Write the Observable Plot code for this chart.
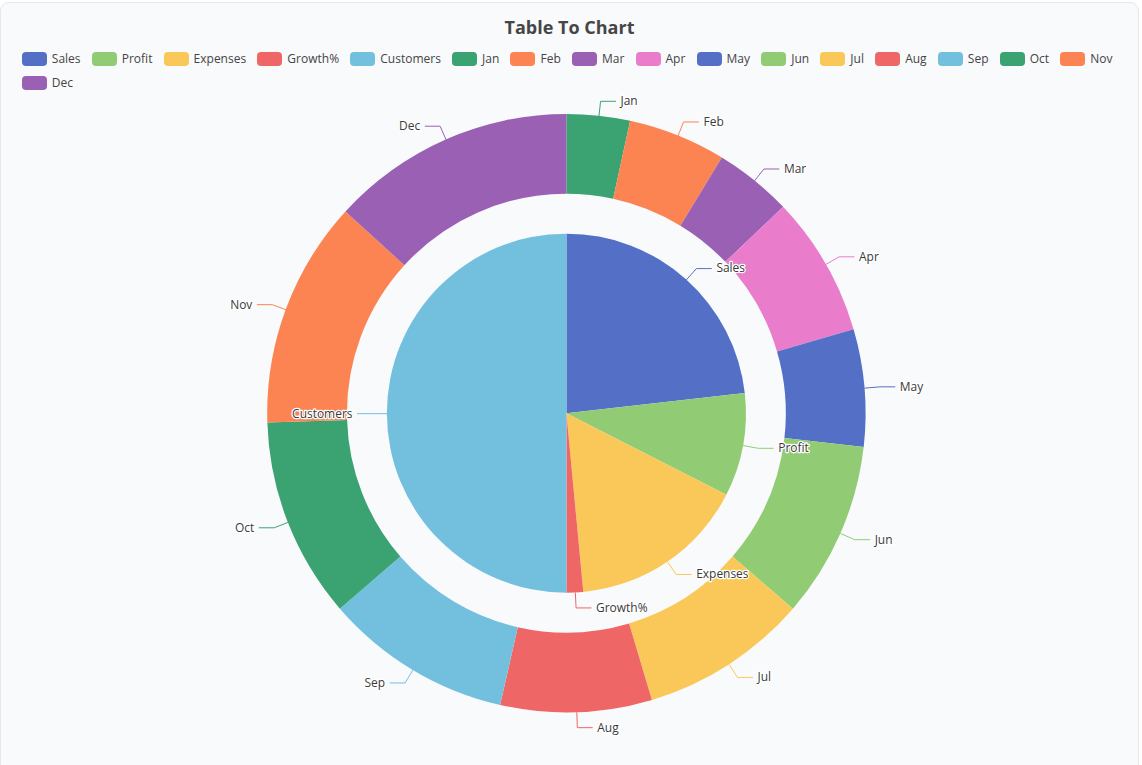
<!DOCTYPE html>
<html>
<head>
<meta charset="utf-8">
<script src="https://cdn.jsdelivr.net/npm/d3@7"></script>
<script src="https://cdn.jsdelivr.net/npm/@observablehq/plot@0.6"></script>
<style>
  html, body { margin: 0; padding: 0; background: #ffffff; overflow: hidden; }
  body { font-family: "Open Sans", "Noto Sans", sans-serif; }
  #card { position: absolute; left: 0; top: 2px; width: 1137px; height: 800px;
          border: 1px solid #e4e7ec; border-radius: 9px; background: #f9fafc; }
  #title { position: absolute; left: 0; width: 100%; top: 14px; text-align: center;
           font-size: 18px; line-height: 20px; font-weight: bold; color: #464646; }
  #legend { position: absolute; left: 20.8px; top: 48.5px; width: 1100px;
            display: flex; flex-wrap: wrap; row-gap: 10px; column-gap: 11.2px; }
  .item { display: flex; align-items: center; height: 14px; font-size: 12px; color: #444; }
  .sw { width: 25px; height: 14px; border-radius: 4px; margin-right: 5px; }
  #chart { position: absolute; left: 0; top: 97px; }
</style>
</head>
<body>
<div id="card">
  <div id="title">Table To Chart</div>
  <div id="legend"></div>
  <div id="chart"></div>
</div>
<script>
// ---- data ----
const innerLabels = ["Sales", "Profit", "Expenses", "Growth%", "Customers"];
const innerValues = [232, 93, 160, 15, 500];
const monthLabels = ["Jan", "Feb", "Mar", "Apr", "May", "Jun", "Jul", "Aug", "Sep", "Oct", "Nov", "Dec"];
const monthValues = [123, 190, 151, 273, 228, 343, 326, 294, 364, 390, 442, 476];
const palette = ["#5470c6", "#91cc75", "#fac858", "#ee6666", "#73c0de", "#3ba272", "#fc8452", "#9a60b4", "#ea7ccc"];

// ---- geometry (px) ----
const W = 1140, H = 660, CX = 566.9, CY = 314;
const R_PIE = 180, R_RING_IN = 220, R_RING_OUT = 300;
const LEN1 = 15, LEN2 = 15, GAP = 5;

const categories = innerLabels.concat(monthLabels);
const colors = categories.map((d, i) => palette[i % palette.length]);

// legend
const legend = document.getElementById("legend");
categories.forEach((c, i) => {
  const it = document.createElement("div");
  it.className = "item";
  it.innerHTML = `<div class="sw" style="background:${colors[i]}"></div><span>${c}</span>`;
  legend.appendChild(it);
});

const pie = d3.pie().sort(null).value(d => d.value);
const innerArcs = pie(innerLabels.map((label, i) => ({label, value: innerValues[i]})));
const outerArcs = pie(monthLabels.map((label, i) => ({label, value: monthValues[i]})));

function labelGeometry(arcs, r) {
  const lines = [], texts = [];
  for (const a of arcs) {
    const m = (a.startAngle + a.endAngle) / 2;
    const s = Math.sin(m), c = Math.cos(m);
    const right = s >= 0;
    const p0 = [r * s, -r * c];
    const p1 = [(r + LEN1) * s, -(r + LEN1) * c];
    const p2 = [p1[0] + (right ? LEN2 : -LEN2), p1[1]];
    lines.push({label: a.data.label, x: p0[0], y: p0[1]});
    lines.push({label: a.data.label, x: p1[0], y: p1[1]});
    lines.push({label: a.data.label, x: p2[0], y: p2[1]});
    texts.push({label: a.data.label, x: p2[0], y: p2[1], right});
  }
  return {lines, texts};
}
const gi = labelGeometry(innerArcs, R_PIE);
const go = labelGeometry(outerArcs, R_RING_OUT);
const lineData = gi.lines.concat(go.lines);
const textData = gi.texts.concat(go.texts);

function arcMark(arcs, r0, r1) {
  return (index, scales) => {
    const cx = scales.x(0), cy = scales.y(0);
    const k = Math.abs(scales.x(1) - scales.x(0));
    const arc = d3.arc().innerRadius(r0 * k).outerRadius(r1 * k);
    const g = d3.create("svg:g").attr("transform", `translate(${cx},${cy})`);
    g.selectAll("path").data(arcs).join("path")
      .attr("d", arc)
      .attr("fill", d => scales.color(d.data.label));
    return g.node();
  };
}

const textOpts = {
  x: "x", y: "y", text: "label", fill: "#3a3a3a", stroke: "white", strokeWidth: 2.5,
  fontSize: 12, fontFamily: "'Open Sans', 'Noto Sans', sans-serif"
};

const chart = Plot.plot({
  width: W, height: H,
  margin: 0,
  style: {background: "transparent", overflow: "visible"},
  x: {domain: [-R_RING_OUT, R_RING_OUT], range: [CX - R_RING_OUT, CX + R_RING_OUT], axis: null},
  y: {domain: [-R_RING_OUT, R_RING_OUT], range: [CY - R_RING_OUT, CY + R_RING_OUT], axis: null},
  color: {type: "ordinal", domain: categories, range: colors},
  marks: [
    arcMark(outerArcs, R_RING_IN, R_RING_OUT),
    arcMark(innerArcs, 0, R_PIE),
    Plot.line(lineData, {x: "x", y: "y", z: "label", stroke: "label", strokeWidth: 1, curve: "linear"}),
    Plot.text(textData.filter(d => d.right), {...textOpts, textAnchor: "start", dx: GAP}),
    Plot.text(textData.filter(d => !d.right), {...textOpts, textAnchor: "end", dx: -GAP})
  ]
});
document.getElementById("chart").appendChild(chart);
</script>
</body>
</html>
